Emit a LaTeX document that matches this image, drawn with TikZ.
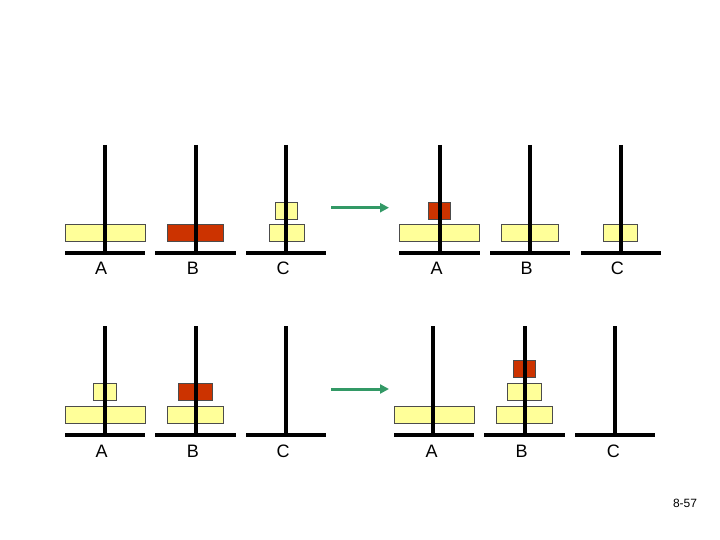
\documentclass[tikz,border=0pt]{standalone}
\usepackage{fontspec}
\setmainfont{Liberation Sans}
\usetikzlibrary{arrows.meta}
\definecolor{diskyellow}{HTML}{FFFF99}
\definecolor{diskred}{HTML}{CC3300}
\definecolor{arrowgreen}{HTML}{339966}
\tikzset{
  pole/.style={line width=4pt, black},
  base/.style={line width=4pt, black},
  ydisk/.style={fill=diskyellow, draw=black!70, line width=0.6pt},
  rdisk/.style={fill=diskred, draw=black!70, line width=0.6pt},
  peglabel/.style={font=\fontsize{18}{21}\selectfont, inner sep=0pt},
  movearrow/.style={arrowgreen, line width=3pt, -{Triangle[length=9pt,width=9pt]}}
}
\begin{document}
\begin{tikzpicture}[x=1pt,y=-1pt]
\useasboundingbox (0,0) rectangle (720,540);
% ---------- top left ----------
\draw[ydisk] (65,224.3) rectangle (145,241.7);
\draw[rdisk] (167.3,224.3) rectangle (223.7,241.7);
\draw[ydisk] (269,224.3) rectangle (304,241.7);
\draw[ydisk] (275.3,202) rectangle (297.7,219.3);
\draw[pole] (105,145) -- (105,252.5);
\draw[pole] (195.7,145) -- (195.7,252.5);
\draw[pole] (286,145) -- (286,252.5);
\draw[base] (65,252.5) -- (145,252.5);
\draw[base] (155,252.5) -- (235.7,252.5);
\draw[base] (246,252.5) -- (326,252.5);
\node[peglabel] (tla) at (101.2,268) {A};
\node[peglabel] (tlb) at (193,268) {B};
\node[peglabel] (tlc) at (283,268) {C};
% ---------- top right ----------
\draw[ydisk] (399,224.3) rectangle (479.7,241.7);
\draw[rdisk] (428.3,202) rectangle (450.3,219.3);
\draw[ydisk] (501,224.3) rectangle (558.7,241.7);
\draw[ydisk] (603.3,224.3) rectangle (637.3,241.7);
\draw[pole] (440,145) -- (440,252.5);
\draw[pole] (530,145) -- (530,252.5);
\draw[pole] (620.7,145) -- (620.7,252.5);
\draw[base] (399,252.5) -- (480,252.5);
\draw[base] (490,252.5) -- (570,252.5);
\draw[base] (581,252.5) -- (661,252.5);
\node[peglabel] (tra) at (436.7,268) {A};
\node[peglabel] (trb) at (526.7,268) {B};
\node[peglabel] (trc) at (617.3,268) {C};
% ---------- bottom left ----------
\draw[ydisk] (65,406.3) rectangle (145,423.7);
\draw[ydisk] (93.3,383.3) rectangle (116.7,400.3);
\draw[ydisk] (167.3,406.3) rectangle (223.7,423.7);
\draw[rdisk] (178.3,383.3) rectangle (212.3,400.3);
\draw[pole] (105,326) -- (105,435);
\draw[pole] (195.7,326) -- (195.7,435);
\draw[pole] (286,326) -- (286,435);
\draw[base] (65,435) -- (145,435);
\draw[base] (155,435) -- (235.7,435);
\draw[base] (246,435) -- (326,435);
\node[peglabel] (bla) at (101.7,451.7) {A};
\node[peglabel] (blb) at (193,451.7) {B};
\node[peglabel] (blc) at (283,451.7) {C};
% ---------- bottom right ----------
\draw[ydisk] (394,406.3) rectangle (474,423.7);
\draw[ydisk] (496,406.3) rectangle (552.7,423.7);
\draw[ydisk] (507.3,383.3) rectangle (541.7,400.3);
\draw[rdisk] (513.3,360) rectangle (535.7,377);
\draw[pole] (433.3,326) -- (433.3,435);
\draw[pole] (525,326) -- (525,435);
\draw[pole] (615,326) -- (615,435);
\draw[base] (394,435) -- (474,435);
\draw[base] (484.3,435) -- (565,435);
\draw[base] (575,435) -- (655,435);
\node[peglabel] (bra) at (431.7,451.7) {A};
\node[peglabel] (brb) at (521.7,451.7) {B};
\node[peglabel] (brc) at (613.3,451.7) {C};
% ---------- arrows ----------
\coordinate (ta1) at (331,207.7);
\coordinate (ta2) at (389,207.7);
\coordinate (ba1) at (331,389);
\coordinate (ba2) at (389,389);
\draw[movearrow] (ta1) -- (ta2);
\draw[movearrow] (ba1) -- (ba2);
% ---------- page number ----------
\node[font=\fontsize{12}{14}\selectfont, inner sep=0pt] (pg) at (685,503) {8-57};
\end{tikzpicture}
\end{document}
